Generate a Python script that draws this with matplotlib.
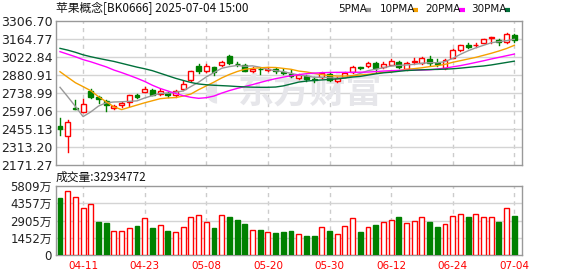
import numpy as np
import matplotlib.pyplot as plt
from matplotlib.patches import Rectangle
from matplotlib.lines import Line2D

plt.rcParams['font.family'] = ['Noto Sans CJK SC', 'DejaVu Sans']

# daily candles, 04-08 .. 07-04 (60 trading days)
opens = [2479, 2396, 2624, 2589, 2755, 2710, 2674, 2621, 2642, 2666,
         2726, 2750, 2760, 2731, 2739, 2721, 2768, 2839, 2952, 2912,
         2944, 2957, 3033, 2968, 2957, 2910, 2930, 2920, 2926, 2907,
         2889, 2855, 2876, 2847, 2863, 2886, 2831, 2867, 2902, 2941,
         2954, 2975, 2941, 2962, 2981, 2926, 2986, 2978, 3007, 2972,
         2939, 3017, 3080, 3118, 3115, 3136, 3170, 3159, 3139, 3196]
closes = [2459, 2510, 2616, 2656, 2711, 2690, 2647, 2636, 2660, 2726,
          2710, 2773, 2726, 2752, 2726, 2752, 2810, 2910, 2915, 2954,
          2907, 2986, 2973, 2965, 2915, 2931, 2926, 2927, 2913, 2894,
          2876, 2881, 2850, 2843, 2899, 2842, 2860, 2896, 2944, 2937,
          2975, 2939, 2970, 2994, 2944, 2975, 2990, 3012, 2975, 2968,
          3001, 3076, 3115, 3099, 3118, 3162, 3178, 3139, 3202, 3157]
highs = [2544, 2524, 2684, 2689, 2767, 2718, 2684, 2641, 2666, 2726,
         2730, 2789, 2773, 2770, 2747, 2763, 2831, 2915, 2965, 2965,
         2946, 2991, 3040, 2983, 2965, 2942, 2937, 2947, 2936, 2926,
         2920, 2886, 2881, 2863, 2907, 2894, 2863, 2902, 2948, 2947,
         2980, 2980, 2980, 3005, 2994, 2980, 3012, 3020, 3030, 3005,
         3005, 3082, 3120, 3136, 3133, 3167, 3180, 3165, 3212, 3202]
lows = [2408, 2270, 2614, 2587, 2700, 2663, 2600, 2612, 2631, 2637,
        2702, 2747, 2721, 2721, 2710, 2705, 2762, 2833, 2894, 2905,
        2881, 2950, 2970, 2952, 2910, 2907, 2886, 2912, 2894, 2886,
        2867, 2850, 2836, 2826, 2855, 2834, 2826, 2862, 2899, 2926,
        2947, 2907, 2933, 2957, 2936, 2920, 2970, 2965, 2962, 2954,
        2930, 3014, 3070, 3094, 3099, 3130, 3133, 3120, 3133, 3143]

ma5 = [2784, 2710, 2633, 2553, 2590, 2636, 2662, 2668, 2670, 2673,
       2677, 2700, 2718, 2736, 2737, 2745, 2755, 2790, 2824, 2866,
       2900, 2934, 2947, 2956, 2950, 2953, 2942, 2925, 2915, 2907,
       2894, 2881, 2873, 2863, 2863, 2860, 2855, 2860, 2873, 2894,
       2915, 2926, 2938, 2952, 2957, 2960, 2965, 2973, 2978, 2978,
       2986, 3012, 3044, 3072, 3095, 3115, 3135, 3144, 3152, 3162]
ma10 = [2907, 2863, 2820, 2789, 2757, 2710, 2670, 2630, 2608, 2626,
        2644, 2662, 2678, 2694, 2700, 2703, 2715, 2731, 2765, 2795,
        2825, 2858, 2885, 2908, 2926, 2933, 2938, 2941, 2940, 2933,
        2926, 2912, 2905, 2894, 2883, 2876, 2873, 2873, 2876, 2881,
        2886, 2894, 2902, 2907, 2915, 2926, 2931, 2938, 2947, 2954,
        2965, 2981, 2994, 3007, 3020, 3036, 3052, 3070, 3090, 3115]
ma20 = [3065, 3045, 3025, 3002, 2985, 2965, 2945, 2920, 2900, 2878,
        2855, 2830, 2800, 2775, 2755, 2735, 2718, 2705, 2697, 2702,
        2715, 2738, 2758, 2775, 2790, 2805, 2822, 2838, 2852, 2864,
        2875, 2884, 2891, 2896, 2899, 2901, 2902, 2902, 2902, 2903,
        2904, 2908, 2912, 2915, 2917, 2918, 2919, 2920, 2922, 2928,
        2935, 2945, 2955, 2967, 2980, 2993, 3007, 3020, 3033, 3046]
ma30 = [3091, 3077, 3060, 3040, 3025, 3012, 3000, 2988, 2973, 2958,
        2943, 2930, 2915, 2895, 2875, 2855, 2838, 2822, 2810, 2804,
        2800, 2797, 2794, 2790, 2787, 2785, 2784, 2784, 2786, 2795,
        2810, 2825, 2833, 2838, 2842, 2846, 2850, 2857, 2865, 2870,
        2880, 2890, 2898, 2903, 2910, 2916, 2919, 2922, 2924, 2925,
        2927, 2930, 2935, 2941, 2947, 2952, 2960, 2970, 2980, 2990]

# volume in 万, colour flag per bar (r = up, g = down)
volumes = [4802, 5388, 4886, 3964, 4299, 2816, 2707, 2036, 2036, 2288,
           2455, 3126, 2288, 2539, 2036, 1953, 2372, 3210, 3377, 2790,
           2288, 3377, 3210, 2958, 2650, 2095, 2120, 1927, 1869, 1953,
           2036, 1760, 1617, 1617, 2346, 2036, 1760, 2430, 3100, 1953,
           2346, 2539, 2765, 2933, 3210, 2681, 2849, 3184, 2790, 2372,
           2598, 3268, 3436, 3210, 3436, 3184, 3184, 2790, 3939, 3293]
vol_dir = "grrrrggrrrgrgrgrrrrrgrgggrgrgggrggrgrrrgrgrrgrrrggrrrgrrrgrg"

price_ticks = [2171.27, 2313.20, 2455.13, 2597.06, 2738.99, 2880.91, 3022.84, 3164.77, 3306.70]
vol_ticks = [0, 1452, 2905, 4357, 5809]
vol_labels = ['0', '1452万', '2905万', '4357万', '5809万']
date_idx = [3, 11, 19, 27, 35, 43, 51, 59]
date_labels = ['04-11', '04-23', '05-08', '05-20', '05-30', '06-12', '06-24', '07-04']

RED = '#ff0000'
GREEN = '#008000'
MA_COLORS = ['#999999', '#f5a000', '#ff00ff', '#00703a']
MA_NAMES = ['5PMA', '10PMA', '20PMA', '30PMA']

W, H = 578, 276
fig = plt.figure(figsize=(W / 100, H / 100), dpi=100)
ax = fig.add_axes([56 / W, 1 - 165 / H, 466 / W, 144 / H])
axv = fig.add_axes([56 / W, 1 - 255.3 / H, 466 / W, 69.3 / H])

x = np.arange(len(closes))
bw = 0.64

for a in (ax, axv):
    a.set_xlim(-0.52, 60.0)
    for s in a.spines.values():
        s.set_color('#999999')
        s.set_linewidth(1)
    a.tick_params(length=0)
    for d in date_idx:
        a.axvline(d, color='#cccccc', lw=1, ls=(0, (3, 3)), zorder=0)

# price panel
ax.set_ylim(price_ticks[0], price_ticks[-1])
ax.set_yticks(price_ticks)
ax.set_yticklabels([f'{v:.2f}' for v in price_ticks], family='DejaVu Sans',
                   fontsize=9, color='#222222')
ax.tick_params(axis='y', pad=2.5)
ax.set_xticks([])
for v in price_ticks[1:-1]:
    ax.axhline(v, color='#d4d4d4', lw=1, zorder=0)

# watermark
ax.text(0.545, 0.51, '东方财富', transform=ax.transAxes, fontsize=26,
        color='#e6e6ea', ha='center', va='center', fontweight='bold',
        style='italic', zorder=0.5)
ax.text(0.335, 0.51, '◖', transform=ax.transAxes, fontsize=20,
        family='DejaVu Sans', color='#e6e6ea', ha='center', va='center',
        zorder=0.5)

for i in x:
    o, c = opens[i], closes[i]
    col = RED if c > o else GREEN
    ax.plot([i, i], [lows[i], highs[i]], color=col, lw=1, zorder=2)
    lo = min(o, c)
    h = max(abs(c - o), 1.5)
    face = 'white' if c > o else GREEN
    ax.add_patch(Rectangle((i - bw / 2, lo), bw, h, facecolor=face,
                           edgecolor=col, lw=1, zorder=3))

for vals, col in zip([ma5, ma10, ma20, ma30], MA_COLORS):
    ax.plot(x, vals, color=col, lw=1, zorder=4)

# volume panel
axv.set_ylim(0, 5809)
axv.set_yticks(vol_ticks)
axv.set_yticklabels(vol_labels, family=['DejaVu Sans', 'Noto Sans CJK SC'],
                    fontsize=8.5, color='#222222')
axv.tick_params(axis='y', pad=3)
for v in vol_ticks[1:-1]:
    axv.axhline(v, color='#d4d4d4', lw=1, zorder=0)
for i in x:
    if vol_dir[i] == 'r':
        axv.add_patch(Rectangle((i - bw / 2, 0), bw, volumes[i], facecolor='white',
                                edgecolor=RED, lw=1, zorder=3))
    else:
        axv.add_patch(Rectangle((i - bw / 2, 0), bw, volumes[i], facecolor=GREEN,
                                edgecolor=GREEN, lw=1, zorder=3))
axv.set_xticks(date_idx)
axv.set_xticklabels(date_labels, family='DejaVu Sans', fontsize=7.5, color=RED)
axv.tick_params(axis='x', pad=4)

# header texts
fig.text(56 / W, 1 - 8.5 / H, '苹果概念[BK0666] 2025-07-04 15:00', fontsize=8.5,
         color='#111111', va='center', ha='left')
fig.text(56 / W, 1 - 177 / H, '成交量:32934772', fontsize=8.5,
         color='#111111', va='center', ha='left')

leg_x = [338.5, 379.5, 425.5, 471.5]
dash_x = [365.5, 412.5, 459.0, 504.5]
for name, col, tx, dx in zip(MA_NAMES, MA_COLORS, leg_x, dash_x):
    fig.text(tx / W, 1 - 9 / H, name, fontsize=7.5, family='DejaVu Sans',
             color='#111111', va='center', ha='left')
    fig.add_artist(Line2D([dx / W, (dx + 5.5) / W], [1 - 9.5 / H, 1 - 9.5 / H],
                          color=col, lw=3, solid_capstyle='butt'))

fig.savefig('out.png', dpi=100)
